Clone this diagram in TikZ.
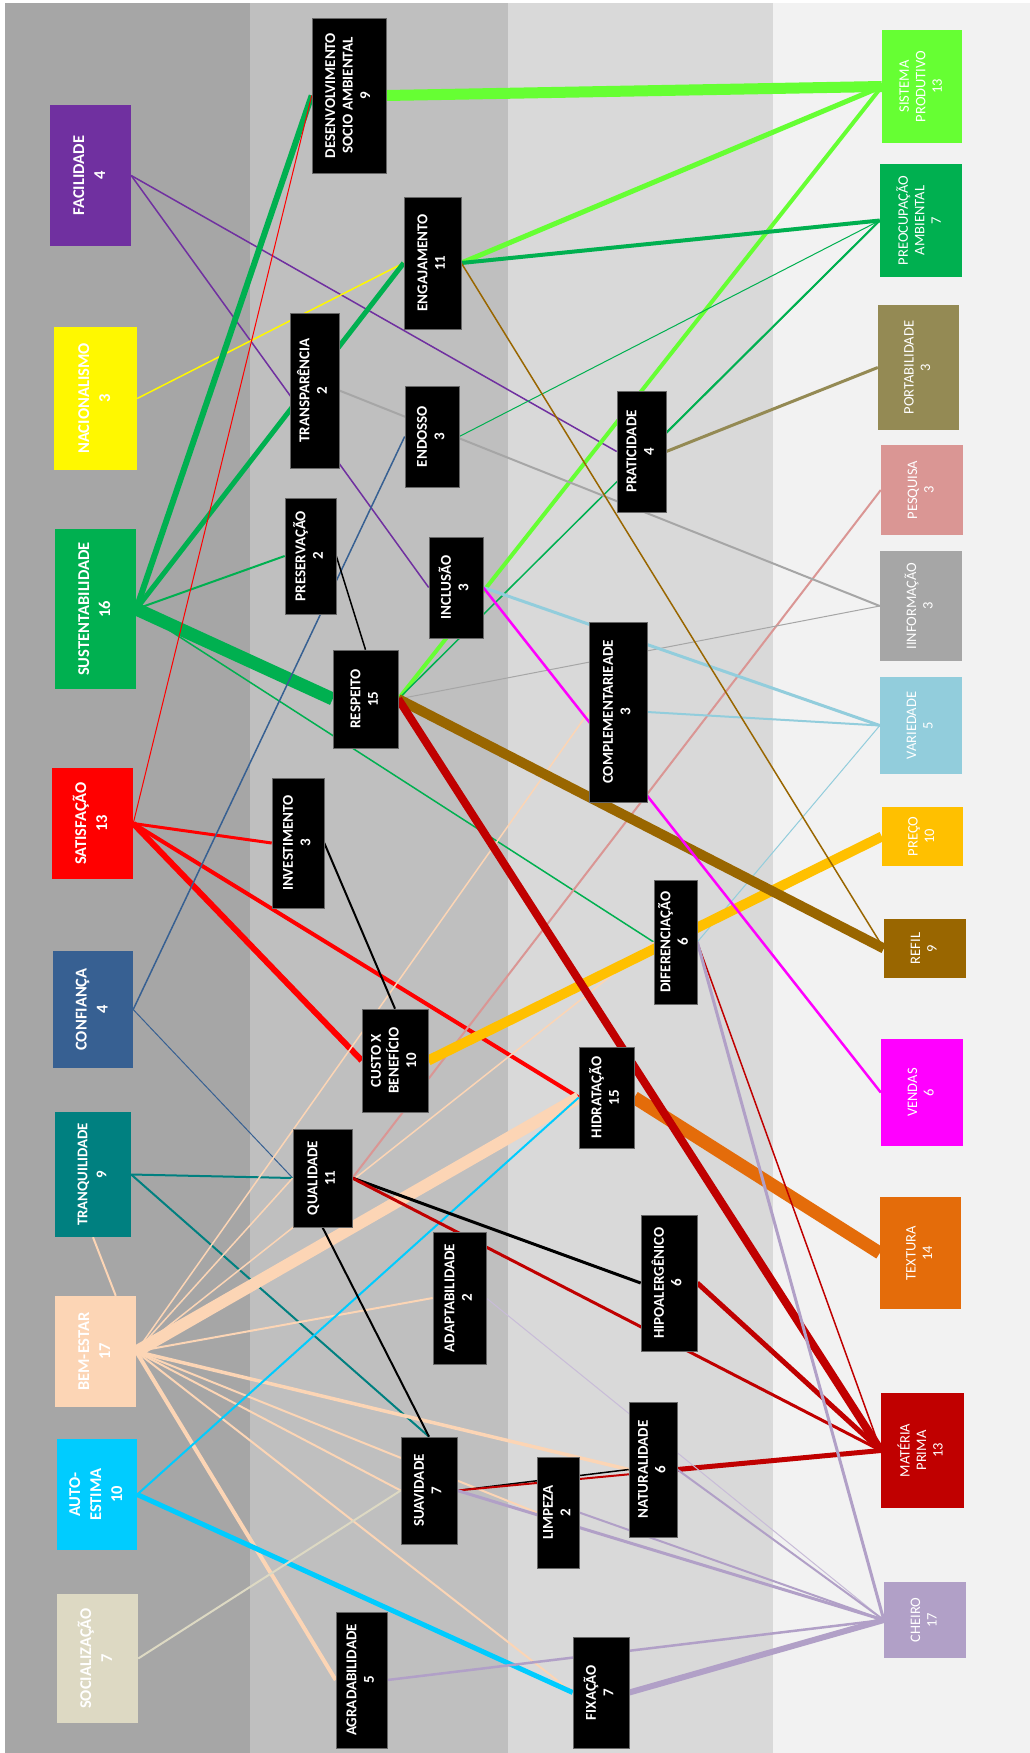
\documentclass[tikz,border=0pt]{standalone}
\usepackage{fontspec}
\setmainfont{Carlito}
\usepackage{graphicx}
\usepackage{xcolor}
\usepackage{tikz}
\pgfdeclarelayer{bands}
\pgfdeclarelayer{edges}
\pgfsetlayers{bands,edges,main}
\definecolor{bandA}{RGB}{166,166,166}
\definecolor{bandB}{RGB}{191,191,191}
\definecolor{bandC}{RGB}{217,217,217}
\definecolor{bandD}{RGB}{242,242,242}
\definecolor{cfac}{RGB}{112,48,160}
\definecolor{cnac}{RGB}{255,248,0}
\definecolor{csus}{RGB}{0,176,80}
\definecolor{csat}{RGB}{255,0,0}
\definecolor{ccon}{RGB}{55,96,146}
\definecolor{ctra}{RGB}{0,128,128}
\definecolor{cbem}{RGB}{252,213,181}
\definecolor{caut}{RGB}{0,204,255}
\definecolor{csoc}{RGB}{221,217,195}
\definecolor{csis}{RGB}{102,255,51}
\definecolor{cpam}{RGB}{0,176,80}
\definecolor{cpor}{RGB}{148,138,84}
\definecolor{cpes}{RGB}{218,150,148}
\definecolor{cinf}{RGB}{166,166,166}
\definecolor{cvar}{RGB}{146,205,220}
\definecolor{cprc}{RGB}{255,192,0}
\definecolor{cref}{RGB}{153,102,0}
\definecolor{cven}{RGB}{255,0,255}
\definecolor{ctex}{RGB}{228,108,10}
\definecolor{cmat}{RGB}{192,0,0}
\definecolor{cche}{RGB}{177,160,199}
\newcommand{\vtxt}[1]{\rotatebox{90}{\begin{tabular}{@{}c@{}}#1\end{tabular}}}

\begin{document}
\begin{tikzpicture}[x=1pt, y=-1pt,
    catbox/.style={rectangle, inner sep=0pt, text=white,
                   font=\fontsize{16.5}{21}\selectfont\bfseries},
    midbox/.style={rectangle, inner sep=0pt, fill=black, draw=black!60,
                   line width=0.6pt, text=white,
                   font=\fontsize{15}{17.5}\selectfont\bfseries},
    outbox/.style={rectangle, inner sep=0pt, text=white,
                   font=\fontsize{14.5}{16.5}\selectfont},
    wh/.style 2 args={minimum width=#1pt, minimum height=#2pt}
  ]
  \useasboundingbox (0,0) rectangle (1030,1753);

  % Left column
  \node[catbox, fill=cfac, wh={81}{141}] (fac) at (90.5,175.5)  {\vtxt{FACILIDADE\\4}};
  \node[catbox, fill=cnac, wh={83}{143}] (nac) at (95.5,398.5)  {\vtxt{NACIONALISMO\\3}};
  \node[catbox, fill=csus, wh={81}{160}] (sus) at (95.5,609)    {\vtxt{SUSTENTABILIDADE\\16}};
  \node[catbox, fill=csat, wh={81}{111}] (sat) at (92.5,823.5)  {\vtxt{SATISFAÇÃO\\13}};
  \node[catbox, fill=ccon, wh={80}{117}] (con) at (93,1009.5)   {\vtxt{CONFIANÇA\\4}};
  \node[catbox, fill=ctra, wh={76}{125}, font=\fontsize{14.8}{19}\selectfont\bfseries]
       (tra) at (93,1174.5) {\vtxt{TRANQUILIDADE\\9}};
  \node[catbox, fill=cbem, wh={81}{111}] (bem) at (95.5,1351.5) {\vtxt{BEM-ESTAR\\17}};
  \node[catbox, fill=caut, wh={80}{111}] (aut) at (97,1494.5)   {\vtxt{AUTO-\\ESTIMA\\10}};
  \node[catbox, fill=csoc, wh={81}{129}] (soc) at (97.5,1658.5) {\vtxt{SOCIALIZAÇÃO\\7}};

  % Middle column
  \node[midbox, wh={74}{155}] (des) at (349,95.5)    {\vtxt{DESENVOLVIMENTO\\SOCIO AMBIENTAL\\9}};
  \node[midbox, wh={57}{132}] (eng) at (432.5,263)   {\vtxt{ENGAJAMENTO\\11}};
  \node[midbox, wh={49}{155}] (tsp) at (314.5,390.5) {\vtxt{TRANSPARÊNCIA\\2}};
  \node[midbox, wh={54}{101}] (end) at (432,436.5)   {\vtxt{ENDOSSO\\3}};
  \node[midbox, wh={51}{116}] (pre) at (310.5,556)   {\vtxt{PRESERVAÇÃO\\2}};
  \node[midbox, wh={54}{101}] (inc) at (456,587.5)   {\vtxt{INCLUSÃO\\3}};
  \node[midbox, wh={65}{98}]  (res) at (365.5,699)   {\vtxt{RESPEITO\\15}};
  \node[midbox, wh={52}{130}] (inv) at (298,843)     {\vtxt{INVESTIMENTO\\3}};
  \node[midbox, wh={66}{103}] (cus) at (395,1060.5)  {\vtxt{CUSTO X\\BENEFÍCIO\\10}};
  \node[midbox, wh={59}{98}]  (qua) at (322.5,1178)  {\vtxt{QUALIDADE\\11}};
  \node[midbox, wh={53}{132}] (ada) at (459.5,1298)  {\vtxt{ADAPTABILIDADE\\2}};
  \node[midbox, wh={56}{107}] (sua) at (429,1490.5)  {\vtxt{SUAVIDADE\\7}};
  \node[midbox, wh={51}{136}] (agr) at (361.5,1680)  {\vtxt{AGRADABILIDADE\\5}};

  % Third column
  \node[midbox, wh={49}{121}] (pra) at (641.5,451.5) {\vtxt{PRATICIDADE\\4}};
  \node[midbox, wh={58}{180}] (com) at (618,712)     {\vtxt{COMPLEMENTARIEADE\\3}};
  \node[midbox, wh={43}{124}] (dif) at (675.5,942)   {\vtxt{DIFERENCIAÇÃO\\6}};
  \node[midbox, wh={55}{101}] (hid) at (606.5,1097.5){\vtxt{HIDRATAÇÃO\\15}};
  \node[midbox, wh={56}{136}] (hip) at (669,1283)    {\vtxt{HIPOALERGÊNICO\\6}};
  \node[midbox, wh={48}{135}] (nat) at (653,1469.5)  {\vtxt{NATURALIDADE\\6}};
  \node[midbox, wh={42}{111}] (lim) at (558,1512.5)  {\vtxt{LIMPEZA\\2}};
  \node[midbox, wh={56}{111}] (fix) at (601,1692.5)  {\vtxt{FIXAÇÃO\\7}};

  % Right column
  \node[outbox, fill=csis, wh={80}{113}] (sis) at (922,86.5)   {\vtxt{SISTEMA\\PRODUTIVO\\13}};
  \node[outbox, fill=cpam, wh={82}{113}] (pam) at (921,220.5)  {\vtxt{PREOCUPAÇÃO\\AMBIENTAL\\7}};
  \node[outbox, fill=cpor, wh={81}{125}] (por) at (918.5,367.5){\vtxt{PORTABILIDADE\\3}};
  \node[outbox, fill=cpes, wh={82}{90}]  (pes) at (922,490)    {\vtxt{PESQUISA\\3}};
  \node[outbox, fill=cinf, wh={82}{110}] (inf) at (921,606)    {\vtxt{IINFORMAÇÃO\\3}};
  \node[outbox, fill=cvar, wh={82}{97}]  (var) at (921,725.5)  {\vtxt{VARIEDADE\\5}};
  \node[outbox, fill=cprc, wh={81}{59}]  (prc) at (922.5,836.5){\vtxt{PREÇO\\10}};
  \node[outbox, fill=cref, wh={82}{59}]  (ref) at (925,948.5)  {\vtxt{REFIL\\9}};
  \node[outbox, fill=cven, wh={82}{107}] (ven) at (922,1092.5) {\vtxt{VENDAS\\6}};
  \node[outbox, fill=ctex, wh={81}{112}] (tex) at (920.5,1253) {\vtxt{TEXTURA\\14}};
  \node[outbox, fill=cmat, wh={83}{115}] (mat) at (922.5,1450.5){\vtxt{MATÉRIA\\PRIMA\\13}};
  \node[outbox, fill=cche, wh={82}{76}]  (che) at (925,1620)   {\vtxt{CHEIRO\\17}};

  % Background bands
  \begin{pgfonlayer}{bands}
    \fill[white] (0,0) rectangle (1030,1753);
    \fill[bandA] (5,3)   rectangle (250,1753);
    \fill[bandB] (250,3) rectangle (508,1753);
    \fill[bandC] (508,3) rectangle (773,1753);
    \fill[bandD] (773,3) rectangle (1030,1753);
  \end{pgfonlayer}

  \begin{pgfonlayer}{edges}
    % Edges: left column -> middle
    \draw[cfac, line width=1.5pt] (fac.east) -- (inc.west);
    \draw[cfac, line width=1.5pt] (fac.east) -- (pra.west);
    \draw[cnac, line width=1.5pt] (nac.east) -- (eng.west);
    \draw[csus, line width=6pt]   (sus.east) -- (des.west);
    \draw[csus, line width=5pt]   (sus.east) -- (eng.west);
    \draw[csus, line width=2pt]   (sus.east) -- (pre.west);
    \draw[csus, line width=13pt]  (sus.east) -- (res.west);
    \draw[csus, line width=1.5pt] (sus.east) -- (dif.west);
    \draw[csat, line width=1pt]   (sat.east) -- (des.west);
    \draw[csat, line width=3pt]   (sat.east) -- (inv.west);
    \draw[csat, line width=6pt]   (sat.east) -- (cus.west);
    \draw[csat, line width=4pt]   (sat.east) -- (hid.west);
    \draw[ccon, line width=1.5pt] (con.east) -- (end.west);
    \draw[ccon, line width=1pt]   (con.east) -- (qua.west);
    \draw[ctra, line width=2pt]   (tra.east) -- (qua.west);
    \draw[ctra, line width=2pt]   (tra.east) -- (sua.north);
    \draw[cbem, line width=2pt]   (tra.south) -- (bem.70);
    \draw[cbem, line width=1.5pt] (bem.east) -- (qua.west);
    \draw[cbem, line width=1.5pt] (bem.east) -- (com.west);
    \draw[cbem, line width=1.5pt] (bem.east) -- (dif.west);
    \draw[cbem, line width=12pt]  (bem.east) -- (hid.west);
    \draw[cbem, line width=2pt]   (bem.east) -- (ada.west);
    \draw[cbem, line width=3.5pt] (bem.east) -- (nat.west);
    \draw[cbem, line width=2pt]   (bem.east) -- (sua.west);
    \draw[cbem, line width=2pt]   (bem.east) -- (lim.west);
    \draw[cbem, line width=2pt]   (bem.east) -- (fix.west);
    \draw[cbem, line width=4pt]   (bem.east) -- (agr.west);
    \draw[caut, line width=2pt]   (aut.east) -- (hid.west);
    \draw[caut, line width=5pt]   (aut.east) -- (fix.west);
    \draw[csoc, line width=2pt]   (soc.east) -- (sua.west);

    % Edges: inside the middle
    \draw[black, line width=1.5pt] (pre.east) -- (res.north);
    \draw[black, line width=2pt]   (inv.east) -- (cus.north);
    \draw[black, line width=3pt]   (qua.east) -- (hip.west);
    \draw[black, line width=2pt]   (qua.south) -- (sua.north);
    \draw[black, line width=1.5pt] (sua.east) -- (nat.west);

    % Edges: middle -> right column
    \draw[csis, line width=11pt]  (des.east) -- (sis.west);
    \draw[csis, line width=5pt]   (eng.east) -- (sis.west);
    \draw[csis, line width=4pt]   (res.east) -- (sis.west);
    \draw[cpam, line width=4pt]   (eng.east) -- (pam.west);
    \draw[cpam, line width=1.5pt] (res.east) -- (pam.west);
    \draw[cpam, line width=1pt]   (end.east) -- (pam.west);
    \draw[cpam, line width=2pt]   (pra.37) -- (pam.west);
    \draw[cpor, line width=3pt]   (pra.east) -- (por.west);
    \draw[cpes, line width=2pt]   (qua.east) -- (pes.west);
    \draw[cinf, line width=2pt]   (tsp.east) -- (inf.west);
    \draw[cinf, line width=1pt]   (res.east) -- (inf.west);
    \draw[cvar, line width=3pt]   (inc.east) -- (var.west);
    \draw[cvar, line width=2pt]   (com.east) -- (var.west);
    \draw[cvar, line width=1pt]   (dif.east) -- (var.west);
    \draw[cprc, line width=10pt]  (cus.east) -- (prc.west);
    \draw[cref, line width=1.5pt] (eng.east) -- (ref.west);
    \draw[cref, line width=10pt]  (res.east) -- (ref.west);
    \draw[cven, line width=2.5pt] (inc.east) -- (ven.west);
    \draw[ctex, line width=13pt]  (hid.east) -- (tex.west);
    \draw[cmat, line width=8pt]   (res.east) -- (mat.west);
    \draw[cmat, line width=1.5pt] (dif.east) -- (mat.west);
    \draw[cmat, line width=3pt]   (qua.east) -- (mat.west);
    \draw[cmat, line width=5pt]   (hip.east) -- (mat.west);
    \draw[cmat, line width=5pt]   (nat.east) -- (mat.west);
    \draw[cmat, line width=2pt]   (sua.east) -- (mat.west);
    \draw[cche, line width=3pt]   (dif.east) -- (che.west);
    \draw[cche!70, line width=1pt] (ada.east) -- (che.west);
    \draw[cche, line width=3pt]   (sua.east) -- (che.west);
    \draw[cche, line width=2pt]   (lim.east) -- (che.west);
    \draw[cche, line width=2pt]   (nat.east) -- (che.west);
    \draw[cche, line width=2.5pt] (agr.east) -- (che.west);
    \draw[cche, line width=6pt]   (fix.east) -- (che.west);
  \end{pgfonlayer}

\end{tikzpicture}
\end{document}
